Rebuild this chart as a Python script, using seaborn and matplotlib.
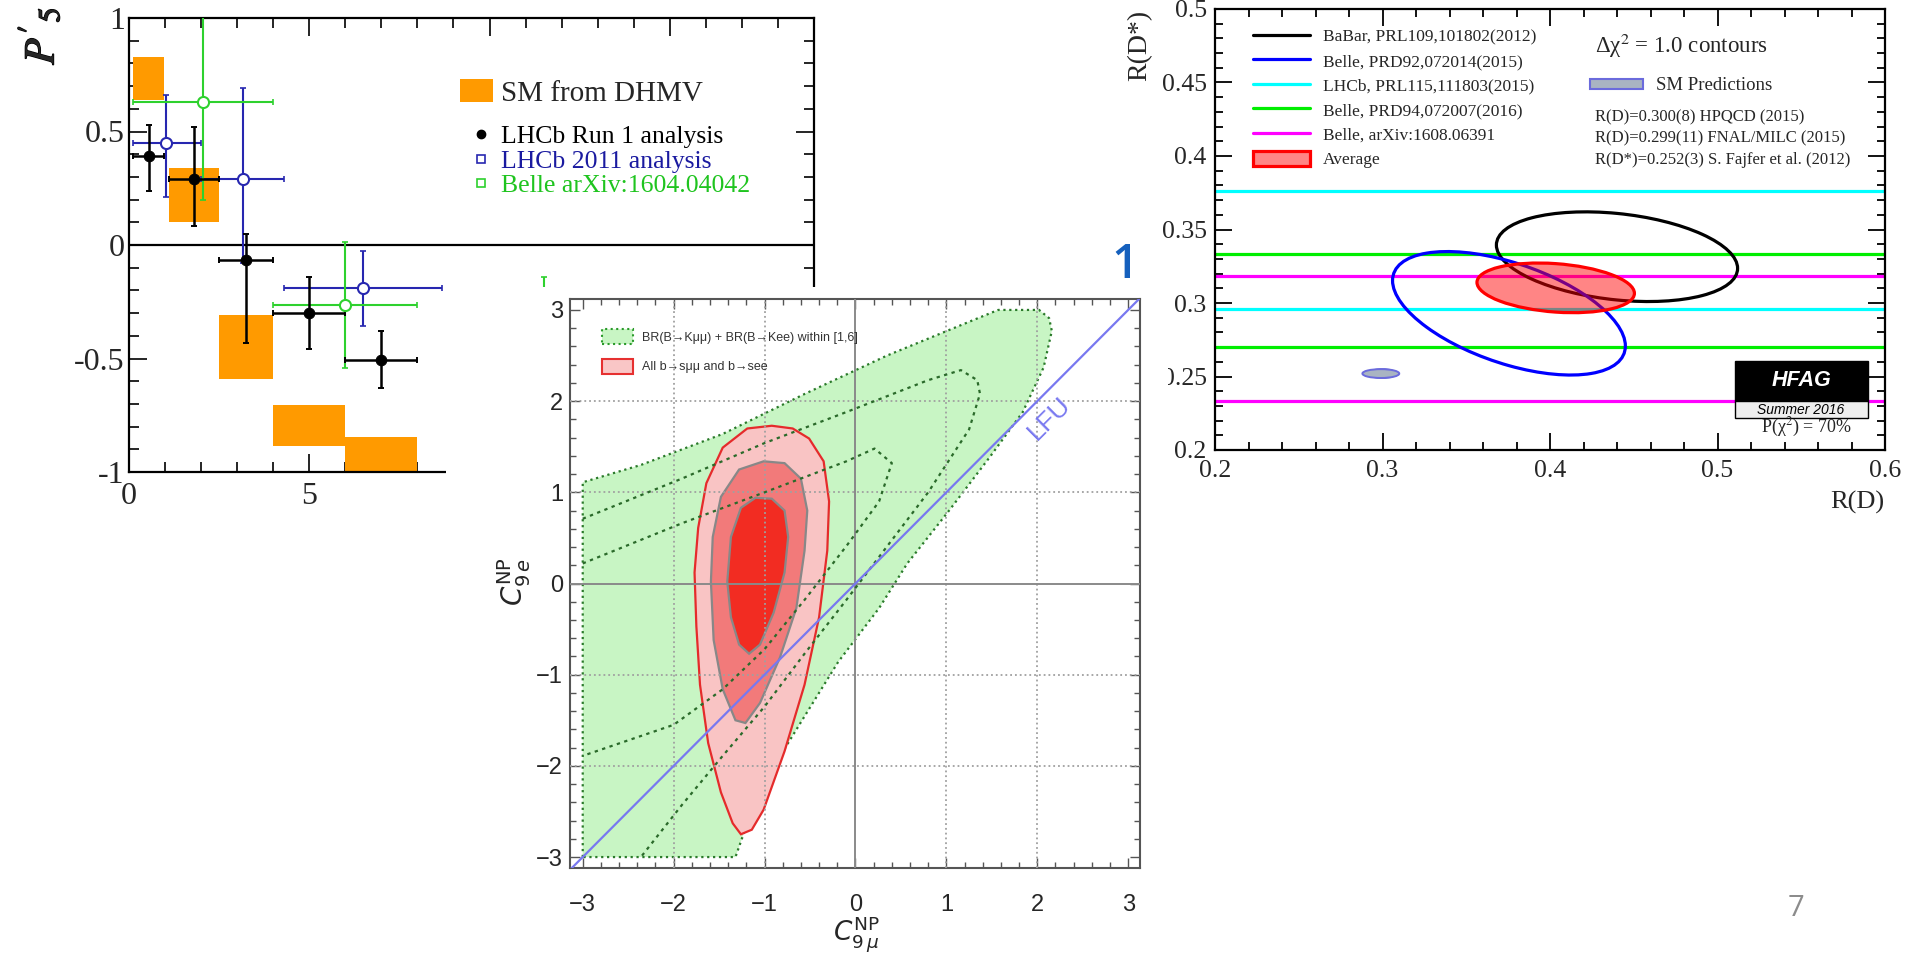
import numpy as np
import seaborn as sns
import matplotlib.pyplot as plt
from matplotlib.patches import Rectangle, Patch, Circle
from matplotlib.lines import Line2D
from matplotlib.ticker import MultipleLocator
from matplotlib.transforms import Affine2D
import matplotlib.patheffects as pe

W, H = 1917, 957

# ---------------- left panel: P5' vs q2 ----------------
sm_qlo = [0.1, 1.1, 2.5, 4.0, 6.0]
sm_qhi = [0.98, 2.5, 4.0, 6.0, 8.0]
sm_lo = [0.64, 0.10, -0.59, -0.885, -1.0]
sm_hi = [0.83, 0.34, -0.31, -0.705, -0.845]

run1_q = [0.55, 1.8, 3.25, 5.0, 7.0]
run1_qlo = [0.1, 1.1, 2.5, 4.0, 6.0]
run1_qhi = [0.98, 2.5, 4.0, 6.0, 8.0]
run1_p5 = [0.39, 0.29, -0.065, -0.30, -0.505]
run1_up = [0.53, 0.52, 0.05, -0.14, -0.38]
run1_dn = [0.24, 0.085, -0.43, -0.46, -0.63]

lhcb11_q = [1.04, 3.16, 6.5]
lhcb11_qlo = [0.1, 2.0, 4.3]
lhcb11_qhi = [2.0, 4.3, 8.68]
lhcb11_p5 = [0.45, 0.29, -0.19]
lhcb11_up = [0.66, 0.69, -0.025]
lhcb11_dn = [0.21, -0.08, -0.355]

belle_q = [2.04, 6.0, 11.5]
belle_qlo = [0.1, 4.0, 10.09]
belle_qhi = [4.0, 8.0, 12.9]
belle_p5 = [0.63, -0.265, -0.45]
belle_up = [1.05, 0.015, -0.14]
belle_dn = [0.20, -0.54, -0.76]

left_xticks = [0, 5, 10, 15]
left_xlabels = ["0", "5", "10", "15"]
left_yticks = [-1, -0.5, 0, 0.5, 1]
left_ylabels = ["-1", "-0.5", "0", "0.5", "1"]

# ---------------- middle panel: C9mu vs C9e ----------------
green_x = [-3.0, -3.0, -2.36, -1.46, -0.556, 0.348, 1.25, 1.57, 2.02, 2.13, 2.16,
           2.07, 1.84, 1.48, 1.03, 0.57, 0.26, -0.19, -0.556, -0.92, -1.19, -1.32]
green_y = [-3.0, 1.11, 1.30, 1.64, 2.08, 2.50, 2.87, 3.0, 3.0, 2.91, 2.77,
           2.37, 1.88, 1.39, 0.80, 0.22, -0.27, -0.86, -1.45, -2.04, -2.63, -3.0]
contA_x = [-3.0, -1.91, -1.0, -0.10, 0.80, 1.16, 1.34, 1.37, 1.25, 0.80, 0.35,
           -0.10, -0.56, -1.0, -1.46, -1.91, -2.36]
contA_y = [0.71, 1.15, 1.54, 1.88, 2.23, 2.34, 2.23, 2.08, 1.69, 1.0, 0.41,
           -0.18, -0.77, -1.35, -1.89, -2.43, -3.0]
contB_x = [-3.0, -1.91, -1.0, -0.10, 0.21, 0.40, 0.26, -0.10, -0.56, -1.0, -1.46, -2.0, -3.0]
contB_y = [0.22, 0.66, 1.0, 1.34, 1.48, 1.32, 0.90, 0.41, -0.18, -0.72, -1.16, -1.55, -1.89]

red3_x = [-0.92, -1.19, -1.46, -1.64, -1.73, -1.77, -1.75, -1.71, -1.62, -1.48, -1.35,
          -1.26, -1.14, -1.01, -0.78, -0.56, -0.40, -0.31, -0.29, -0.35, -0.51, -0.69]
red3_y = [1.73, 1.70, 1.49, 1.10, 0.61, 0.12, -0.47, -1.11, -1.75, -2.29, -2.63,
          -2.75, -2.70, -2.48, -1.84, -1.11, -0.37, 0.36, 0.90, 1.34, 1.59, 1.70]
red2_x = [-1.01, -1.28, -1.48, -1.57, -1.59, -1.56, -1.46, -1.32, -1.21, -1.05, -0.83,
          -0.65, -0.56, -0.53, -0.60, -0.78]
red2_y = [1.34, 1.25, 0.95, 0.51, 0.02, -0.62, -1.16, -1.50, -1.53, -1.31, -0.81,
          -0.27, 0.36, 0.80, 1.15, 1.32]
red1_x = [-1.10, -1.26, -1.37, -1.41, -1.37, -1.28, -1.17, -1.05, -0.90, -0.78, -0.74, -0.78, -0.92]
red1_y = [0.94, 0.83, 0.51, 0.02, -0.37, -0.67, -0.77, -0.67, -0.32, 0.12, 0.51, 0.80, 0.93]

lfu_x = [-3.3, 3.3]
lfu_y = [-3.3, 3.3]
mid_ticks = [-3, -2, -1, 0, 1, 2, 3]
mid_labels = ["\u22123", "\u22122", "\u22121", "0", "1", "2", "3"]
mid_grid = [-2, -1, 1, 2]

# ---------------- right panel: R(D) vs R(D*) ----------------
band_vals = [[0.2957, 0.3760], [0.2703, 0.3335], [0.2333, 0.3186]]
band_colors = ["#00ffff", "#00ee00", "#ff00ff"]

ell_cx = [0.440, 0.3755]
ell_cy = [0.3315, 0.293]
ell_sx = [0.072, 0.0695]
ell_sy = [0.0305, 0.042]
ell_rho = [-0.26, -0.53]
ell_colors = ["black", "#0000ff"]

avg_c = [0.4034, 0.3103]
avg_s = [0.047, 0.0169]
avg_rho = -0.22

sm_rd = [0.300, 0.299]
sm_rd_err = [0.008, 0.011]
sm_rdst = 0.252
sm_rdst_err = 0.003

leg_labels = ["BaBar, PRL109,101802(2012)", "Belle, PRD92,072014(2015)",
              "LHCb, PRL115,111803(2015)", "Belle, PRD94,072007(2016)",
              "Belle, arXiv:1608.06391", "Average"]
leg_colors = ["black", "#0000ff", "#00ffff", "#00ee00", "#ff00ff"]
right_xticks = [0.2, 0.3, 0.4, 0.5, 0.6]
right_xlabels = ["0.2", "0.3", "0.4", "0.5", "0.6"]
right_yticks = [0.2, 0.25, 0.3, 0.35, 0.4, 0.45, 0.5]
right_ylabels = ["0.2", "0.25", "0.3", "0.35", "0.4", "0.45", "0.5"]
sm_notes = ["R(D)=0.300(8) HPQCD (2015)", "R(D)=0.299(11) FNAL/MILC (2015)",
            "R(D*)=0.252(3) S. Fajfer et al. (2012)"]

SERIF = ["Liberation Serif", "DejaVu Serif"]
SANS = ["Liberation Sans", "DejaVu Sans"]

sns.set_style("ticks")
plt.rcParams["font.family"] = SERIF
plt.rcParams["mathtext.fontset"] = "stix"

fig = plt.figure(figsize=(W / 100, H / 100), dpi=100, facecolor="white")


def fxy(px, py):
    return px / W, 1 - py / H


def axes_px(l, t, r, b, z):
    return fig.add_axes([l / W, 1 - b / H, (r - l) / W, (b - t) / H], zorder=z)


def errs(c, lo, hi):
    c = np.asarray(c, dtype=float)
    return [c - np.asarray(lo), np.asarray(hi) - c]


# ===== left =====
axL = axes_px(129, 18, 814, 472, 1)
axL.set_facecolor("white")
axL.bar(sm_qlo, np.subtract(sm_hi, sm_lo), width=np.subtract(sm_qhi, sm_qlo),
        bottom=sm_lo, align="edge", color="#ff9a00", lw=0, zorder=1)
axL.axhline(0, color="black", lw=1.6, zorder=2)

axL.errorbar(run1_q, run1_p5, xerr=errs(run1_q, run1_qlo, run1_qhi),
             yerr=errs(run1_p5, run1_dn, run1_up), fmt="none", ecolor="black",
             elinewidth=1.8, capsize=2.5, capthick=1.4, zorder=4)
axL.errorbar(lhcb11_q, lhcb11_p5, xerr=errs(lhcb11_q, lhcb11_qlo, lhcb11_qhi),
             yerr=errs(lhcb11_p5, lhcb11_dn, lhcb11_up), fmt="none", ecolor="#2727b0",
             elinewidth=1.5, capsize=2.5, capthick=1.2, zorder=3)
axL.errorbar(belle_q, belle_p5, xerr=errs(belle_q, belle_qlo, belle_qhi),
             yerr=errs(belle_p5, belle_dn, belle_up), fmt="none", ecolor="#2ed12e",
             elinewidth=1.5, capsize=2.5, capthick=1.2, zorder=3)
sns.scatterplot(x=run1_q, y=run1_p5, ax=axL, color="black", s=60, edgecolor="black",
                zorder=6, legend=False)
axL.plot(lhcb11_q, lhcb11_p5, ls="none", marker="o", ms=8, mfc="white",
         mec="#2727b0", mew=1.5, zorder=5)
axL.plot(belle_q, belle_p5, ls="none", marker="o", ms=8, mfc="white",
         mec="#2ed12e", mew=1.5, zorder=5)

axL.set_xlim(0, 19)
axL.set_ylim(-1, 1)
axL.set_xticks(left_xticks, labels=left_xlabels, fontsize=23, family=SERIF)
axL.set_yticks(left_yticks, labels=left_ylabels, fontsize=23, family=SERIF)
axL.xaxis.set_minor_locator(MultipleLocator(1))
axL.yaxis.set_minor_locator(MultipleLocator(0.1))
axL.tick_params(which="both", direction="in", top=True, right=True, width=1.2, color="black")
axL.tick_params(which="major", length=13)
axL.tick_params(which="minor", length=7)
axL.tick_params(axis="y", pad=3)
axL.tick_params(axis="x", pad=7)
for sp in axL.spines.values():
    sp.set_linewidth(1.6)
    sp.set_color("black")

legL1 = axL.legend([Patch(facecolor="#ff9a00", edgecolor="none")], ["SM from DHMV"],
                   loc="center left", bbox_to_anchor=fxy(460, 93), bbox_transform=fig.transFigure,
                   frameon=False, prop={"family": SERIF, "size": 21}, handlelength=1.13,
                   handleheight=0.8, handletextpad=0.28, borderpad=0, borderaxespad=0)
axL.add_artist(legL1)
mk_handles = [Line2D([], [], ls="none", marker="o", ms=6, color="black"),
              Line2D([], [], ls="none", marker="s", ms=6, mfc="none", mec="#2727b0", mew=1.2),
              Line2D([], [], ls="none", marker="s", ms=6, mfc="none", mec="#2ed12e", mew=1.2)]
axL.legend(mk_handles, ["LHCb Run 1 analysis", "LHCb 2011 analysis", "Belle arXiv:1604.04042"],
           loc="upper left", bbox_to_anchor=fxy(468, 125), bbox_transform=fig.transFigure,
           frameon=False, prop={"family": SERIF, "size": 18.5},
           labelcolor=["black", "#1a1aa0", "#1fc41f"], handlelength=1.0,
           handletextpad=0.28, labelspacing=0.06, borderpad=0, borderaxespad=0)

fig.text(*fxy(40, 36), r"$P'_5$", rotation=90, ha="center", va="center", fontsize=31,
         math_fontfamily="stix", zorder=10,
         path_effects=[pe.withStroke(linewidth=1.0, foreground="black")])

# ===== middle =====
fig.add_artist(Rectangle(fxy(446, 957), (1150 - 446) / W, (957 - 287) / H,
                         transform=fig.transFigure, facecolor="white", edgecolor="none", zorder=2))
axM = axes_px(570, 299, 1140, 868, 3)
axM.set_facecolor("white")
axM.fill(green_x, green_y, facecolor="#c8f5c4", edgecolor="#2a7a2a", ls=":", lw=1.6, zorder=1)
axM.fill(red3_x, red3_y, facecolor="#f9c4c4", edgecolor="#e52b2b", lw=1.6, zorder=2)
axM.fill(red2_x, red2_y, facecolor="#f27a7a", edgecolor="#888888", lw=1.6, zorder=3)
axM.fill(red1_x, red1_y, facecolor="#f22c22", edgecolor="#888888", lw=1.6, zorder=4)
for g in mid_grid:
    axM.axhline(g, color="#a0a0a0", ls=":", lw=1.3, zorder=5)
    axM.axvline(g, color="#a0a0a0", ls=":", lw=1.3, zorder=5)
axM.axhline(0, color="#8a8a8a", lw=1.4, zorder=5)
axM.axvline(0, color="#8a8a8a", lw=1.4, zorder=5)
axM.plot(contA_x, contA_y, color="#2a6a2a", ls=(0, (1.5, 2)), lw=1.6, zorder=6)
axM.plot(contB_x, contB_y, color="#2a6a2a", ls=(0, (1.5, 2)), lw=1.6, zorder=6)
sns.lineplot(x=lfu_x, y=lfu_y, ax=axM, color="#7878f0", lw=1.6, zorder=7)
axM.text(2.13, 1.81, "LFU", rotation=45, color="#7878f0", fontsize=19, family=SANS,
         ha="center", va="center", zorder=7)

axM.set_xlim(-3.14, 3.13)
axM.set_ylim(-3.12, 3.12)
axM.set_xticks(mid_ticks, labels=mid_labels, fontsize=17, family=SANS)
axM.set_yticks(mid_ticks, labels=mid_labels, fontsize=17, family=SANS)
axM.xaxis.set_minor_locator(MultipleLocator(0.2))
axM.yaxis.set_minor_locator(MultipleLocator(0.2))
axM.tick_params(which="both", direction="in", top=True, right=True, width=1.0, color="#555555")
axM.tick_params(which="major", length=7)
axM.tick_params(which="minor", length=4)
axM.tick_params(axis="y", pad=5)
axM.tick_params(axis="x", pad=19)
for sp in axM.spines.values():
    sp.set_linewidth(1.5)
    sp.set_color("#555555")
axM.legend([Patch(facecolor="#c8f5c4", edgecolor="#2a9a2a", ls=":", lw=1.5),
            Patch(facecolor="#f9c6c6", edgecolor="#e63030", lw=1.5)],
           ["BR(B\u2192K\u03bc\u03bc) + BR(B\u2192Kee) within [1,6]",
            "All b\u2192s\u03bc\u03bc and b\u2192see"],
           loc="upper left", bbox_to_anchor=fxy(602, 329), bbox_transform=fig.transFigure,
           frameon=False, prop={"family": SANS, "size": 9}, labelcolor="#333333",
           handlelength=2.5, handleheight=1.44, handletextpad=0.72, labelspacing=1.2,
           borderpad=0, borderaxespad=0)
fig.text(*fxy(856, 934), r"$C^{\rm NP}_{9\,\mu}$", fontsize=19, math_fontfamily="dejavusans",
         ha="center", va="center", zorder=10)
fig.text(*fxy(514, 582), r"$C^{\rm NP}_{9\,e}$", fontsize=20, math_fontfamily="dejavusans",
         rotation=90, ha="center", va="center", zorder=10)

# ===== right =====
axR = axes_px(1215, 9, 1885, 450, 4)
axR.set_facecolor("white")
for ys, c in zip(band_vals, band_colors):
    for y in ys:
        axR.axhline(y, color=c, lw=2.3, zorder=2)


def ellipse(ax, cx, cy, sx, sy, rho, **kw):
    m = np.array([[sx, 0, cx], [rho * sy, sy * np.sqrt(1 - rho ** 2), cy], [0, 0, 1]])
    ax.add_patch(Circle((0, 0), 1, transform=Affine2D(m) + ax.transData, **kw))


for cx, cy, sx, sy, r, c in zip(ell_cx, ell_cy, ell_sx, ell_sy, ell_rho, ell_colors):
    ellipse(axR, cx, cy, sx, sy, r, facecolor="none", edgecolor=c, lw=2.3, zorder=3)
for rd, e in zip(sm_rd, sm_rd_err):
    ellipse(axR, rd, sm_rdst, e, sm_rdst_err, 0.0, facecolor="#a9b4c2",
            edgecolor="#6b6bdc", lw=1.4, zorder=3)
ellipse(axR, avg_c[0], avg_c[1], avg_s[0], avg_s[1], avg_rho,
        facecolor=(1, 0, 0, 0.48), edgecolor="red", lw=2.3, zorder=4)

axR.set_xlim(0.2, 0.6)
axR.set_ylim(0.2, 0.5)
axR.set_xticks(right_xticks, labels=right_xlabels, fontsize=18.5, family=SERIF)
axR.set_yticks(right_yticks, labels=right_ylabels, fontsize=18.5, family=SERIF)
axR.xaxis.set_minor_locator(MultipleLocator(0.02))
axR.yaxis.set_minor_locator(MultipleLocator(0.01))
axR.tick_params(which="both", direction="in", top=True, right=True, width=1.3, color="black")
axR.tick_params(which="major", length=12)
axR.tick_params(which="minor", length=6)
axR.tick_params(axis="y", pad=6)
axR.tick_params(axis="x", pad=7)
for sp in axR.spines.values():
    sp.set_linewidth(1.6)
    sp.set_color("black")

leg_handles = [Line2D([], [], color=c, lw=2.3) for c in leg_colors]
leg_handles.append(Patch(facecolor=(1, 0, 0, 0.48), edgecolor="red", lw=2.3))
legR = axR.legend(leg_handles, leg_labels, loc="upper left", bbox_to_anchor=fxy(1253, 28),
                  bbox_transform=fig.transFigure, frameon=False,
                  prop={"family": SERIF, "size": 12.5}, handlelength=3.28, handleheight=0.95,
                  handletextpad=0.75, labelspacing=0.41, borderpad=0, borderaxespad=0)
axR.add_artist(legR)
axR.legend([Patch(facecolor="#a9b4c2", edgecolor="#6b6bdc", lw=1.5)], ["SM Predictions"],
           loc="center left", bbox_to_anchor=fxy(1590, 86), bbox_transform=fig.transFigure,
           frameon=False, prop={"family": SERIF, "size": 13.5}, handlelength=2.83,
           handleheight=0.5, handletextpad=0.7, borderpad=0, borderaxespad=0)

fig.text(*fxy(1595, 46), "\u0394\u03c7$^{2}$ = 1.0 contours", fontsize=16.5, ha="left",
         va="center", math_fontfamily="stix", zorder=10)
for i, note in enumerate(sm_notes):
    fig.text(*fxy(1595, 117 + 21.5 * i), note, fontsize=12, ha="left", va="center", zorder=10)

fig.add_artist(Rectangle(fxy(1735, 401), (1868 - 1735) / W, 40 / H, transform=fig.transFigure,
                         facecolor="black", edgecolor="black", lw=1, zorder=10))
fig.add_artist(Rectangle(fxy(1735, 418), (1868 - 1735) / W, 17 / H, transform=fig.transFigure,
                         facecolor="#eeeeee", edgecolor="black", lw=1, zorder=10))
fig.text(*fxy(1801, 381), "HFAG", color="white", fontsize=15.5, family=SANS,
         weight="bold", style="italic", ha="center", va="center", zorder=11)
fig.text(*fxy(1801, 410), "Summer 2016", color="black", fontsize=10, family=SANS,
         style="italic", ha="center", va="center", zorder=11)
fig.text(*fxy(1806, 427), "P(\u03c7$^{2}$) = 70%", fontsize=13, ha="center", va="center",
         math_fontfamily="stix", zorder=11)

fig.text(*fxy(1140, 10), "R(D*)", rotation=90, fontsize=20, ha="center", va="top", zorder=10)
fig.text(*fxy(1884, 502), "R(D)", fontsize=19, ha="right", va="center", zorder=10)
# cropped edge of the pasted panel cuts the 0.25 label
fig.add_artist(Rectangle(fxy(1148, 390), 20 / W, 30 / H, transform=fig.transFigure,
                         facecolor="white", edgecolor="none", zorder=9))

# slide leftovers
fig.text(*fxy(1125, 265), "1", color="#1560bd", fontsize=34, weight="semibold",
         family=["Open Sans", "DejaVu Sans"], ha="center", va="center", zorder=1)
fig.text(*fxy(1796, 908), "7", color="#8c8c8c", fontsize=21, family=["Open Sans", "DejaVu Sans"],
         ha="center", va="center", zorder=10)

fig.savefig("out.png", dpi=100, facecolor="white")
